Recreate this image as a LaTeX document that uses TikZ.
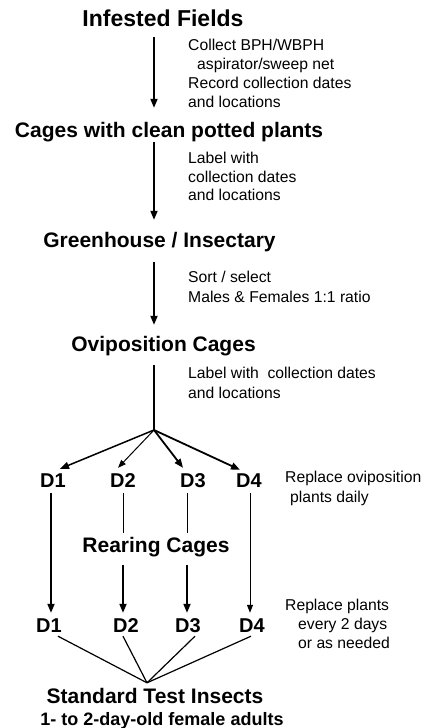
\documentclass[tikz,border=0pt]{standalone}
\usepackage{fontspec}
\setmainfont{Liberation Sans}
\usetikzlibrary{arrows.meta,calc}
\begin{document}
\begin{tikzpicture}[x=1pt,y=-1pt,
  title/.style={font=\fontsize{21}{25}\selectfont\bfseries, inner sep=0pt, text height=15pt, text depth=4pt, anchor=base},
  dlabel/.style={title, font=\fontsize{20}{24}\selectfont\bfseries},
  note/.style={font=\fontsize{15.7}{19}\selectfont, inner sep=0pt, anchor=base west, align=left},
  arr/.style={line width=1.8pt, -{Triangle[length=9pt,width=7pt]}},
  tarr/.style={line width=1pt, -{Triangle[length=8pt,width=6pt]}},
  thin line/.style={line width=1pt},
  conv line/.style={line width=1.2pt}]
\useasboundingbox (0,0) rectangle (424,728);

% columns
\coordinate (spine) at (154,0);
\coordinate (c1) at (51,0);
\coordinate (c2) at (123,0);
\coordinate (c3) at (187,0);
\coordinate (c4) at (250,0);

% titles
\node[title, font=\fontsize{23}{27}\selectfont\bfseries] (inf) at (163,27) {Infested Fields};
\node[title] (cages) at (169,137) {Cages with clean potted plants};
\node[title] (green) at (159.5,247) {Greenhouse / Insectary};
\node[title] (ovi) at (163.5,351) {Oviposition Cages};
\node[title] (rear) at (156,552) {Rearing Cages};
\node[title] (std) at (155,703) {Standard Test Insects};
\node[title, font=\fontsize{18}{22}\selectfont\bfseries] (age) at (162,725) {1- to 2-day-old female adults};

% D labels
\node[dlabel] (d1) at (53,487) {D1};
\node[dlabel] (d2) at (123,487) {D2};
\node[dlabel] (d3) at (193,487) {D3};
\node[dlabel] (d4) at (249,487) {D4};
\node[dlabel] (e1) at (49,632) {D1};
\node[dlabel] (e2) at (126,632) {D2};
\node[dlabel] (e3) at (188,632) {D3};
\node[dlabel] (e4) at (252,632) {D4};

% notes (anchored at the baseline of their last line)
\node[note] (n1) at (188,107.5) {Collect BPH/WBPH\\\hspace*{9pt}aspirator/sweep net\\Record collection dates\\and locations};
\node[note, font=\fontsize{15.7}{18.5}\selectfont] (n2) at (188,200.5) {Label with\\collection dates\\and locations};
\node[note, font=\fontsize{15.7}{20}\selectfont] (n3) at (188,302.5) {Sort / select\\Males \& Females 1:1 ratio};
\node[note, font=\fontsize{15.7}{20}\selectfont] (n4) at (188,398.5) {Label with~ collection dates\\and locations};
\node[note, font=\fontsize{15.7}{20}\selectfont] (n5) at (285,502.5) {Replace oviposition\\\hspace*{5pt}plants daily};
\node[note] (n6) at (285,648.5) {Replace plants\\\hspace*{13pt}every 2 days\\\hspace*{13pt}or as needed};

% main spine
\draw[arr, shorten <=6pt, shorten >=14pt] (inf.south -| spine) -- (cages.north -| spine);
\draw[arr, shorten <=1pt, shorten >=12pt] (cages.south -| spine) -- (green.north -| spine);
\draw[arr, shorten <=11pt, shorten >=11pt] (green.south -| spine) -- (ovi.north -| spine);
\coordinate (fork) at (154,430);
\draw[line width=1.8pt, shorten <=10pt] (ovi.south -| spine) -- (fork);

% fork to D row 1
\draw[arr, line width=1.5pt] (fork) -- ([shift={(7,-3)}]d1.north);
\draw[tarr] (fork) -- ([shift={(-5,-4)}]d2.north);
\draw[arr] (fork) -- ([shift={(-10,-4)}]d3.north);
\draw[arr] (fork) -- ([shift={(-9,-2)}]d4.north);

% D row 1 down to D row 2
\draw[arr, shorten <=2pt, shorten >=4pt] (d1.south -| c1) -- (e1.north -| c1);
\draw[thin line, shorten <=2pt, shorten >=4pt] (d2.south -| c2) -- (rear.north -| c2);
\draw[thin line, shorten <=2pt, shorten >=4pt] (d3.south -| c3) -- (rear.north -| c3);
\draw[arr, shorten <=9pt, shorten >=4pt] (rear.south -| c2) -- (e2.north -| c2);
\draw[arr, shorten <=9pt, shorten >=4pt] (rear.south -| c3) -- (e3.north -| c3);
\draw[tarr, shorten <=2pt, shorten >=4pt] (d4.south -| c4) -- (e4.north -| c4);

% converge
\coordinate (conv) at ([shift={(-8,-5)}]std.north);
\draw[conv line] ([xshift=9pt]e1.south) -- (conv);
\draw[conv line] ([xshift=-3pt]e2.south) -- (conv);
\draw[conv line] ([xshift=7pt]e3.south) -- (conv);
\draw[conv line] ([xshift=-1pt]e4.south) -- (conv);
\end{tikzpicture}
\end{document}
